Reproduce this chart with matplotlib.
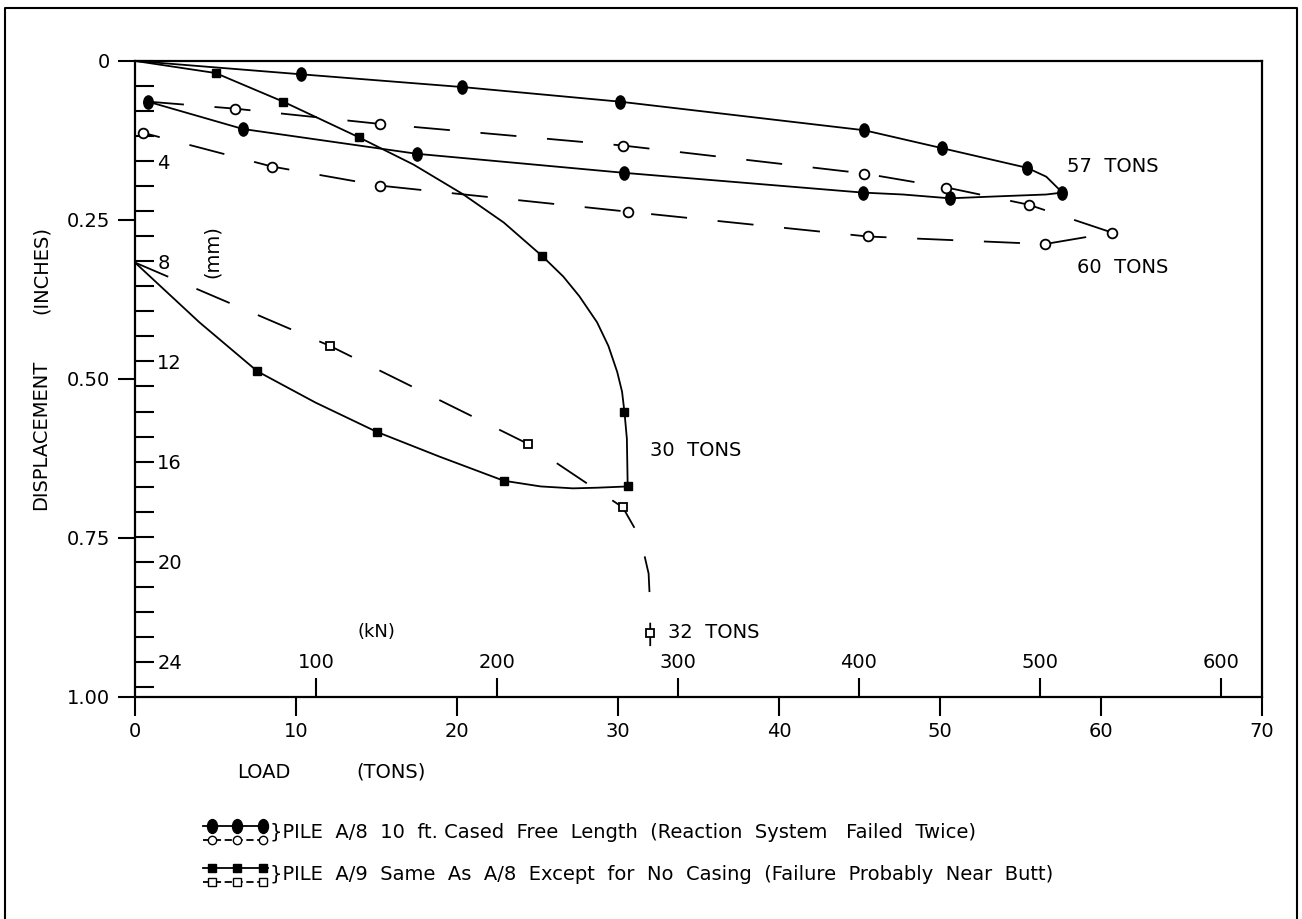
import matplotlib.pyplot as plt
import numpy as np
from matplotlib.lines import Line2D
from matplotlib.path import Path
from matplotlib.transforms import Affine2D

plt.rcParams['font.family'] = 'DejaVu Sans'

# pile A/8 - first cycle (solid, filled circles), load then unload
a8_t = [0, 10.3, 20.3, 30.1, 45.3, 50.1, 55.4, 56.6, 57.6, 56.6, 53.5, 50.6, 47.7, 45.2, 30.4, 17.5, 6.7, 0.8]
a8_d = [0, .021, .041, .064, .109, .137, .168, .182, .207, .210, .213, .216, .210, .207, .176, .146, .107, .064]
a8_mk = [1, 2, 3, 4, 5, 6, 8, 11, 13, 14, 15, 16, 17]
# pile A/8 - second cycle (dashed, open circles)
a8r_t = [0.8, 6.2, 15.2, 30.3, 45.3, 50.4, 55.5, 60.7, 56.5, 45.5, 30.6, 15.2, 8.5, 0.5]
a8r_d = [.064, .075, .099, .133, .177, .199, .226, .270, .288, .276, .237, .196, .166, .113]
a8r_mk = list(range(1, 14))

# pile A/9 - first cycle (solid, filled squares)
a9_t = [0, 5.0, 9.2, 13.9, 17.3, 20.4, 22.9, 25.3, 26.6, 27.6, 28.7, 29.4, 29.95, 30.25, 30.4,
        30.55, 30.6, 28.7, 27.2, 25.2, 22.9, 18.9, 15.0, 11.2, 7.6, 4.0, 0]
a9_d = [0, .019, .064, .120, .163, .210, .254, .307, .339, .370, .411, .448, .489, .520, .552,
        .594, .669, .671, .672, .669, .660, .622, .583, .537, .488, .411, .317]
a9_mk = [1, 2, 3, 7, 14, 16, 20, 22, 24]
# pile A/9 - second cycle (dashed, open squares)
a9r_t = [0, 12.1, 24.4, 30.3, 31.4, 31.9, 32.0, 32.0, 32.0]
a9r_d = [.317, .448, .602, .702, .751, .806, .860, .900, .920]
a9r_mk = [1, 2, 3, 7]

tons_ticks = [0, 10, 20, 30, 40, 50, 60, 70]
inch_ticks = [0, 0.25, 0.50, 0.75, 1.00]
inch_labels = ['0', '0.25', '0.50', '0.75', '1.00']
mm_ticks = list(range(0, 26))
mm_labels = [str(m) if m % 4 == 0 and m > 0 else '' for m in mm_ticks]
kn_ticks = [100, 200, 300, 400, 500, 600]

KN_PER_TON = 8.896
MM_PER_IN = 25.4

# vertical ellipse marker for the filled circles
ell = Path.unit_circle().transformed(Affine2D().scale(0.72, 1.0))

fig = plt.figure(figsize=(13.02, 9.19), dpi=100)
ax = fig.add_axes([0.1037, 0.2416, 0.8656, 0.6921])

dash = (0, (20, 17))
ax.plot(a8_t, a8_d, color='black', lw=1.3, marker=ell, ms=9.5, mfc='black', mec='black',
        markevery=a8_mk)
ax.plot(a8r_t, a8r_d, color='black', lw=1.3, ls=dash, marker='o', ms=7, mfc='white',
        mec='black', mew=1.3, markevery=a8r_mk)
ax.plot(a9_t, a9_d, color='black', lw=1.3, marker='s', ms=6, mfc='black', mec='black',
        markevery=a9_mk)
ax.plot(a9r_t, a9r_d, color='black', lw=1.3, ls=dash, marker='s', ms=6, mfc='white',
        mec='black', mew=1.3, markevery=a9r_mk)

ax.set_xlim(0, 70)
ax.set_ylim(1.0, 0.0)
for s in ax.spines.values():
    s.set_linewidth(1.6)

ax.set_xticks(tons_ticks)
ax.set_yticks(inch_ticks)
ax.set_yticklabels(inch_labels)
ax.tick_params(axis='x', direction='out', length=14, width=1.5, pad=4, labelsize=14)
ax.tick_params(axis='y', direction='out', length=12, width=1.5, pad=6, labelsize=14)

# mm scale, ticks inside along the left spine
sec_y = ax.secondary_yaxis(0.0, functions=(lambda v: v * MM_PER_IN, lambda v: v / MM_PER_IN))
sec_y.set_alignment('right')
sec_y.set_yticks(mm_ticks)
sec_y.set_yticklabels(mm_labels)
sec_y.tick_params(direction='out', length=14, width=1.5, pad=2, labelsize=14)
sec_y.spines['right'].set_visible(False)

# kN scale, ticks inside along the bottom spine
sec_x = ax.secondary_xaxis(0.0, functions=(lambda v: v * KN_PER_TON, lambda v: v / KN_PER_TON))
sec_x.set_alignment('top')
sec_x.set_xticks(kn_ticks)
sec_x.tick_params(direction='out', length=14, width=1.5, pad=4, labelsize=14)
sec_x.spines['top'].set_visible(False)

# labels
ax.text(57.9, 0.166, '57  TONS', fontsize=14, va='center')
ax.text(58.5, 0.325, '60  TONS', fontsize=14, va='center')
ax.text(32.0, 0.613, '30  TONS', fontsize=14, va='center')
ax.text(33.1, 0.898, '32  TONS', fontsize=14, va='center')
ax.text(15.0, 0.898, '(kN)', fontsize=13, ha='center', va='center')
ax.text(4.8, 0.30, '(mm)', fontsize=14, rotation=90, ha='center', va='center')

fig.text(264 / 1302, 1 - 772 / 919, 'LOAD', fontsize=14, ha='center', va='center')
fig.text(391 / 1302, 1 - 772 / 919, '(TONS)', fontsize=14, ha='center', va='center')
fig.text(41 / 1302, 1 - 435 / 919, 'DISPLACEMENT', fontsize=14, rotation=90, ha='center', va='center')
fig.text(41 / 1302, 1 - 270 / 919, '(INCHES)', fontsize=14, rotation=90, ha='center', va='center')

# legend drawn by hand: two stacked sample lines per pile
def legend_row(yc, mk, ms_f, ms_o, text):
    xs = np.array([203, 212, 237, 263, 268]) / 1302
    top = 1 - (yc - 7) / 919
    bot = 1 - (yc + 7) / 919
    fig.add_artist(Line2D(xs, [top] * 5, transform=fig.transFigure, color='black', lw=1.3,
                          marker=mk, ms=ms_f, mfc='black', mec='black', markevery=[1, 2, 3]))
    fig.add_artist(Line2D(xs, [bot] * 5, transform=fig.transFigure, color='black', lw=1.3,
                          ls=(0, (4, 2)), marker=mk if mk != ell else 'o', ms=ms_o, mfc='white',
                          mec='black', markevery=[1, 2, 3]))
    fig.text(270 / 1302, 1 - yc / 919, '}' + text, fontsize=14, va='center')

legend_row(833, ell, 10, 6, 'PILE  A/8  10  ft. Cased  Free  Length  (Reaction  System   Failed  Twice)')
legend_row(875, 's', 6, 5.5, 'PILE  A/9  Same  As  A/8  Except  for  No  Casing  (Failure  Probably  Near  Butt)')

# outer frame of the figure
frame = Line2D([0.004, 0.004, 0.996, 0.996], [0.0, 0.991, 0.991, 0.0],
               transform=fig.transFigure, color='black', lw=1.5)
fig.add_artist(frame)

fig.savefig('out.png', dpi=100)
